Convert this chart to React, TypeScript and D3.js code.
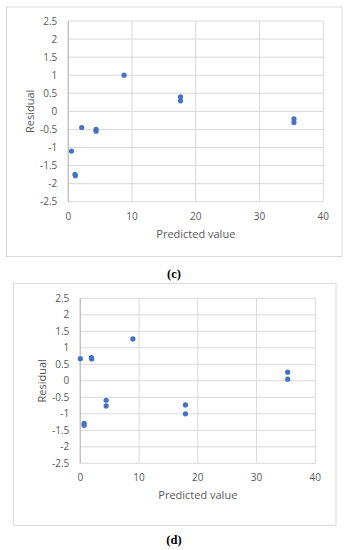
import * as d3 from 'd3';

// panel (c)
const predC = [0.5, 1.05, 1.1, 2.1, 4.35, 4.35, 8.75, 17.6, 17.6, 35.4, 35.4];
const residC = [-1.1, -1.74, -1.78, -0.45, -0.5, -0.55, 1.0, 0.4, 0.29, -0.21, -0.31];

// panel (d)
const predD = [0, 1.9, 1.95, 0.65, 0.65, 4.4, 4.4, 8.95, 17.9, 17.9, 35.3, 35.3];
const residD = [0.67, 0.7, 0.66, -1.29, -1.35, -0.59, -0.76, 1.27, -0.73, -1.0, 0.26, 0.05];

const xTicks = [0, 10, 20, 30, 40];
const yTicks = [2.5, 2, 1.5, 1, 0.5, 0, -0.5, -1, -1.5, -2, -2.5];

const font = "'Open Sans', sans-serif";
const grey = '#595959';

function Panel({ box, plot, xs, ys, caption, captionY }) {
  const x = d3.scaleLinear().domain([0, 40]).range([plot.x0, plot.x1]);
  const y = d3.scaleLinear().domain([-2.5, 2.5]).range([plot.y1, plot.y0]);
  const cx = (plot.x0 + plot.x1) / 2;
  const cy = (plot.y0 + plot.y1) / 2;
  return (
    <g>
      <rect x={box.x} y={box.y} width={box.w} height={box.h} fill="#fff" stroke="#d9d9d9" strokeWidth={1} />
      {yTicks.map((t) => (
        <line key={'gy' + t} x1={plot.x0} x2={plot.x1} y1={y(t)} y2={y(t)} stroke="#d9d9d9" strokeWidth={1} />
      ))}
      {xTicks.map((t) => (
        <line key={'gx' + t} x1={x(t)} x2={x(t)} y1={plot.y0} y2={plot.y1} stroke="#d9d9d9" strokeWidth={1} />
      ))}
      <line x1={plot.x0} x2={plot.x0} y1={plot.y0} y2={plot.y1} stroke="#bfbfbf" strokeWidth={1.3} />
      {yTicks.map((t) => (
        <text key={'ty' + t} x={plot.x0 - 11} y={y(t)} dy="0.35em" textAnchor="end" fontSize={10} fill={grey} fontFamily={font}>
          {String(t).replace('-', '-')}
        </text>
      ))}
      {xTicks.map((t) => (
        <text key={'tx' + t} x={x(t)} y={plot.y1 + 18} textAnchor="middle" fontSize={10} fill={grey} fontFamily={font}>
          {t}
        </text>
      ))}
      <text x={cx} y={plot.y1 + 36} textAnchor="middle" fontSize={11} fill={grey} fontFamily={font}>
        Predicted value
      </text>
      <text transform={`translate(${plot.x0 - 38},${cy}) rotate(-90)`} dy="0.35em" textAnchor="middle" fontSize={11} fill={grey} fontFamily={font}>
        Residual
      </text>
      {xs.map((v, i) => (
        <circle key={i} cx={x(v)} cy={y(ys[i])} r={2.6} fill="#4472c4" />
      ))}
      <text x={174} y={captionY} textAnchor="middle" fontSize={12.5} fontWeight="bold" fontFamily="'Liberation Serif', serif" fill="#000">
        {caption}
      </text>
    </g>
  );
}

export default function App() {
  return (
    <svg width={351} height={550} style={{ position: 'absolute', left: 0, top: 0, background: '#fff' }}>
      <rect width={351} height={550} fill="#fff" />
      <Panel
        box={{ x: 6.5, y: 7, w: 335.5, h: 249.5 }}
        plot={{ x0: 68.3, x1: 323.3, y0: 21, y1: 201.7 }}
        xs={predC}
        ys={residC}
        caption="(c)"
        captionY={278}
      />
      <Panel
        box={{ x: 13.3, y: 283.3, w: 322.7, h: 242 }}
        plot={{ x0: 80.3, x1: 315.3, y0: 298.3, y1: 463.3 }}
        xs={predD}
        ys={residD}
        caption="(d)"
        captionY={544}
      />
    </svg>
  );
}
